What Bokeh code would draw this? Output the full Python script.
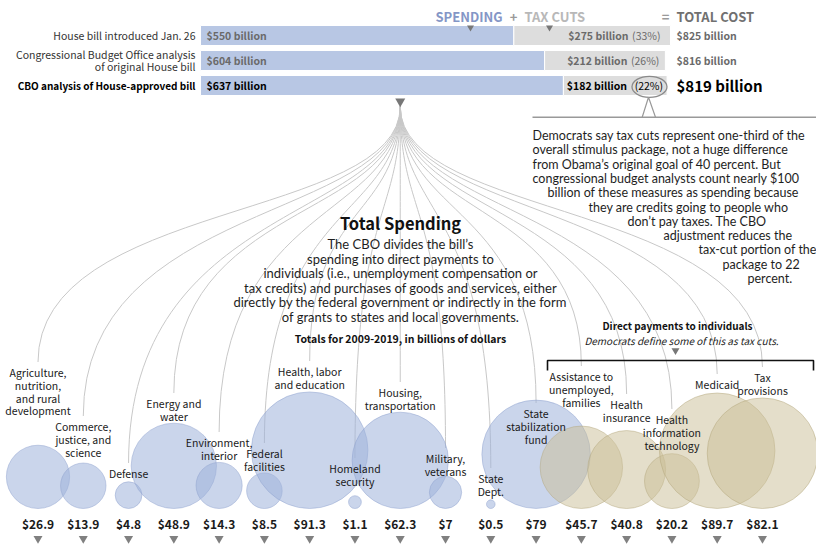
import math
from bokeh.plotting import figure
from bokeh.models import Range1d
from bokeh.core.properties import value
from bokeh.embed import file_html
from bokeh.resources import INLINE

# ---------------- data ----------------
bill_versions = ["House bill introduced Jan. 26",
                 "Congressional Budget Office analysis\nof original House bill",
                 "CBO analysis of House-approved bill"]
spending = [550, 604, 637]
tax_cuts = [275, 212, 182]
tax_share_pct = [33, 26, 22]
total_cost = [825, 816, 819]

sectors = ["Agriculture,\nnutrition,\nand rural\ndevelopment",
           "Commerce,\njustice, and\nscience",
           "Defense",
           "Energy and\nwater",
           "Environment,\ninterior",
           "Federal\nfacilities",
           "Health, labor\nand education",
           "Homeland\nsecurity",
           "Housing,\ntransportation",
           "Military,\nveterans",
           "State\nDept.",
           "State\nstabilization\nfund",
           "Assistance to\nunemployed,\nfamilies",
           "Health\ninsurance",
           "Health\ninformation\ntechnology",
           "Medicaid",
           "Tax\nprovisions"]
sector_totals = [26.9, 13.9, 4.8, 48.9, 14.3, 8.5, 91.3, 1.1, 62.3, 7, 0.5, 79,
                 45.7, 40.8, 20.2, 89.7, 82.1]
sector_group = ["purchases"] * 12 + ["direct"] * 5

annotation_lines = ["Democrats say tax cuts represent one-third of the",
                    "overall stimulus package, not a huge difference",
                    "from Obama\u2019s original goal of 40 percent. But",
                    "congressional budget analysts count nearly $100",
                    "billion of these measures as spending because",
                    "they are credits going to people who",
                    "don\u2019t pay taxes. The CBO",
                    "adjustment reduces the",
                    "tax-cut portion of the",
                    "package to 22",
                    "percent."]
intro_lines = ["The CBO divides the bill\u2019s",
               "spending into direct payments to",
               "individuals (i.e., unemployment compensation or",
               "tax credits) and purchases of goods and services, either",
               "directly by the federal government or indirectly in the form",
               "of grants to states and local governments."]

# ---------------- layout / style ----------------
COND = "Noto Sans CJK SC"
BODY = "Lato"
W, H = 816, 544
ROW_Y = [35, 60, 85]
BAR_H = 20
BAR_X0 = 200
PX_PER_BIL = 0.5697
SECT_X0, SECT_DX = 37.5, 45.28
BASE_Y = 508
R_K = 6.1
LABEL_TOP = [364.5, 418.5, 465.5, 395.5, 434.5, 445.5, 363.5, 460.5, 384.5, 450.5,
             470.5, 405.5, 368.5, 396.5, 411.5, 376.5, 369.5]
ANN_X = [532, 532, 532, 532, 547, 588, 627, 663, 698, 722, 747]
ANN_Y0, ANN_DY = 135, 14.3
PCT_OFF = [-10, -6, -4]
AMT_OFF = [-42, -38, -40]

p = figure(width=W, height=H, x_range=Range1d(0, W), y_range=Range1d(H, 0),
           output_backend="svg", toolbar_location=None, min_border=0,
           x_axis_type=None, y_axis_type=None)
p.grid.visible = False
p.outline_line_color = None
p.background_fill_color = "white"
p.border_fill_color = "white"
p.extra_x_ranges = {
    "bil": Range1d((0 - BAR_X0) / PX_PER_BIL, (W - BAR_X0) / PX_PER_BIL),
    "idx": Range1d((0 - SECT_X0) / SECT_DX, (W - SECT_X0) / SECT_DX),
}


def txt(x, y, s, size, font=COND, style="normal", color="#222", align="left",
        baseline="middle", rng="default", line_height=1.2, **kw):
    xs = x if isinstance(x, list) else [x]
    ys = y if isinstance(y, list) else [y]
    ss = s if isinstance(s, list) else [s]
    p.text(x=xs, y=ys, text=ss, text_font=value(font), text_font_size=value(f"{size}px"),
           text_font_style=style, text_color=color, text_align=align,
           text_baseline=baseline, x_range_name=rng, text_line_height=line_height, **kw)


# ---------------- fan lines ----------------
n = len(sectors)
mid = (n - 1) / 2
idx = list(range(n))
p.bezier(x0=[mid] * n, y0=[106] * n, x1=idx, y1=[t - 3 for t in LABEL_TOP],
         cx0=[mid] * n, cy0=[220] * n, cx1=idx, cy1=[200] * n,
         x_range_name="idx", line_color="#c8c8c8", line_width=1)

# ---------------- top bars ----------------
p.hbar(y=ROW_Y, left=[0] * 3, right=spending, height=BAR_H, x_range_name="bil",
       fill_color="#b8c7e4", line_color="white", line_width=1)
p.hbar(y=ROW_Y, left=spending, right=total_cost, height=BAR_H, x_range_name="bil",
       fill_color="#dddddd", line_color="white", line_width=1)

# row labels
for i, lab in enumerate(bill_versions):
    bold = i == 2
    txt(195, ROW_Y[i], lab, 10 if bold else 10.5, style="bold" if bold else "normal",
        color="#000" if bold else "#333", align="right", line_height=0.85)
# spending labels in bars
for i, v in enumerate(spending):
    txt(0, ROW_Y[i], f"${v} billion", 10.5, style="bold",
        color="#000" if i == 2 else "#6a6a6a", rng="bil", x_offset=6)
# tax labels
for i, v in enumerate(tax_cuts):
    c = "#000" if i == 2 else "#6a6a6a"
    txt(total_cost[i], ROW_Y[i], f"({tax_share_pct[i]}%)", 10.5, color=c, align="right",
        rng="bil", x_offset=PCT_OFF[i])
    txt(total_cost[i], ROW_Y[i], f"${v} billion", 10.5, style="bold", color=c, align="right",
        rng="bil", x_offset=AMT_OFF[i])
# totals
for i, v in enumerate(total_cost):
    if i == 2:
        txt(676, ROW_Y[i], f"${v} billion", 15, style="bold", color="#000")
    else:
        txt(676, ROW_Y[i], f"${v} billion", 10.5, style="bold", color="#6a6a6a")

# header
txt(435, 16, "SPENDING", 13, style="bold", color="#8496c6")
txt(513, 16, "+", 13, style="bold", color="#9a9a9a", align="center")
txt(524, 16, "TAX CUTS", 13, style="bold", color="#b8b8b8")
txt(665, 16, "=", 13, style="bold", color="#9a9a9a", align="center")
txt(676, 16, "TOTAL COST", 13, style="bold", color="#707070")
p.scatter(x=[470, 549], y=[27, 27], marker="inverted_triangle", size=7,
          fill_color="#777777", line_color=None)

# 22% ellipse + pointer
ex = total_cost[2] - 17.6 / PX_PER_BIL
p.ellipse(x=[ex], y=[86.3], width=35 / PX_PER_BIL, height=21, x_range_name="bil",
          fill_color=None, line_color="#8a8a8a", line_width=1.3)
p.line(x=[641.7, 648, 655], y=[116.7, 96.8, 116.7], line_color="#999999", line_width=1.2)
p.line(x=[532, 816], y=[116.7, 116.7], line_color="#999999", line_width=1.5)

# origin triangle of fan
p.scatter(x=[mid], y=[101], marker="inverted_triangle", size=10, x_range_name="idx",
          fill_color="#777777", line_color=None)

# annotation
for k, s in enumerate(annotation_lines):
    txt(ANN_X[k], ANN_Y0 + ANN_DY * k, s, 12.5, font=BODY, color="#1e1e1e")

# center text
txt(400, 222, "Total Spending", 16.5, style="bold", color="#111", align="center")
for k, s in enumerate(intro_lines):
    txt(400, 243.5 + 14.5 * k, s, 13, font=BODY, color="#1e1e1e", align="center")
txt(400, 338, "Totals for 2009-2019, in billions of dollars", 10.5, style="bold",
    color="#111", align="center")

# direct payments bracket
txt(677, 325, "Direct payments to individuals", 10, style="bold", color="#111", align="center")
txt(681, 340, "Democrats define some of this as tax cuts.", 10, style="italic",
    color="#222", align="center")
p.scatter(x=[675], y=[350], marker="inverted_triangle", size=8,
          fill_color="#777777", line_color=None)
p.line(x=[547, 547, 813, 813], y=[370, 360, 360, 370], line_color="#111111", line_width=1.6)

# ---------------- circles ----------------
radii = [R_K * math.sqrt(v) for v in sector_totals]
for g, fc, lc, fa in [("purchases", "#9fb3da", "#8fa3cf", 0.55),
                      ("direct", "#c9bd96", "#b3a67c", 0.5)]:
    sel = [i for i in range(n) if sector_group[i] == g]
    p.scatter(x=[idx[i] for i in sel], y=[BASE_Y - radii[i] for i in sel],
              size=[2 * radii[i] for i in sel], marker="circle", x_range_name="idx",
              fill_color=fc, fill_alpha=fa, line_color=lc, line_alpha=0.6, line_width=0.8)

# sector labels
txt(idx, LABEL_TOP, sectors, 10.5, color="#1a1a1a", align="center", baseline="top",
    rng="idx", line_height=0.85)
txt(idx, [523] * n, [f"${v:g}" for v in sector_totals], 12, style="bold",
    color="#1a1a1a", align="center", rng="idx")
p.scatter(x=idx, y=[538] * n, marker="inverted_triangle", size=9, x_range_name="idx",
          fill_color="#808080", line_color=None)

open("out.html", "w").write(file_html(p, INLINE))
